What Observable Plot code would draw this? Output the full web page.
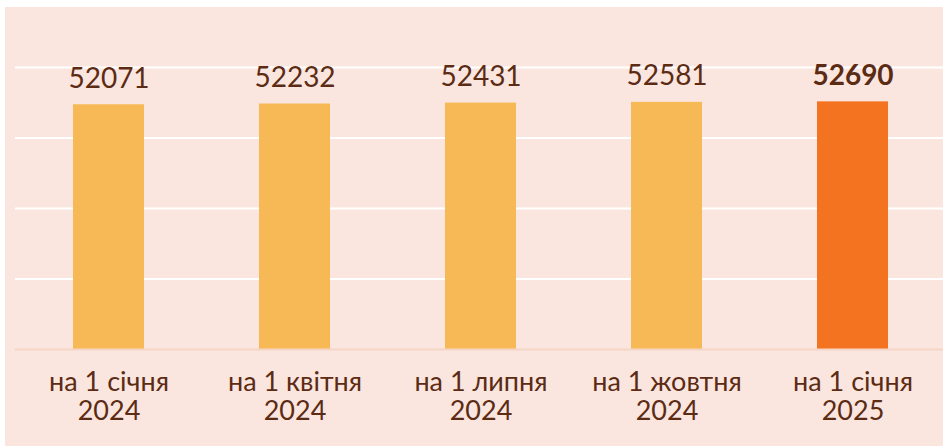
<!DOCTYPE html>
<html>
<head>
<meta charset="utf-8">
<script src="https://cdn.jsdelivr.net/npm/d3@7"></script>
<script src="https://cdn.jsdelivr.net/npm/@observablehq/plot@0.6"></script>
<style>
  html, body { margin: 0; padding: 0; background: #ffffff; overflow: hidden; }
  #panel { position: absolute; left: 5px; top: 7px; width: 938px; height: 439px; background: #fae6df; }
  svg { display: block; }
</style>
</head>
<body>
<div id="panel"></div>
<script>
const categories = ["на 1 січня\n2024", "на 1 квітня\n2024", "на 1 липня\n2024", "на 1 жовтня\n2024", "на 1 січня\n2025"];
const values = [52071, 52232, 52431, 52581, 52690];
const highlight = [false, false, false, false, true];
const gridTicks = [15000, 30000, 45000, 60000];

const data = categories.map((c, i) => ({ cat: c, value: values[i], hl: highlight[i] }));

const textColor = "#5c2b14";

const chart = Plot.plot({
  width: 938,
  height: 439,
  marginTop: 60, marginBottom: 97, marginLeft: 10, marginRight: 0,
  style: { background: "transparent", fontFamily: "Lato, 'Open Sans', sans-serif", color: textColor, overflow: "visible" },
  x: { domain: categories, range: [10, 940], paddingInner: 0.62, paddingOuter: 0.31, align: 0.5, axis: null },
  y: { domain: [0, 60000], axis: null },
  marks: [
    Plot.ruleY(gridTicks, { stroke: "#ffffff", strokeWidth: 2, strokeOpacity: 1 }),
    Plot.barY(data, { x: "cat", y: "value", fill: d => d.hl ? "#f47321" : "#f6b955" }),
    Plot.ruleY([0], { stroke: "#f5d6c6", strokeWidth: 2, strokeOpacity: 1 }),
    Plot.text(data.filter(d => !d.hl), { x: "cat", y: "value", text: d => String(d.value), dy: -17, lineAnchor: "bottom", fontSize: 28, fill: textColor }),
    Plot.text(data.filter(d => d.hl), { x: "cat", y: "value", text: d => String(d.value), dy: -17, lineAnchor: "bottom", fontSize: 28, fontWeight: "bold", fill: textColor }),
    Plot.axisX({ tickSize: 0, tickPadding: 21, fontSize: 27, lineHeight: 1.08, label: null, fill: textColor, tickFormat: d => d })
  ]
});
document.getElementById("panel").appendChild(chart);
</script>
</body>
</html>
